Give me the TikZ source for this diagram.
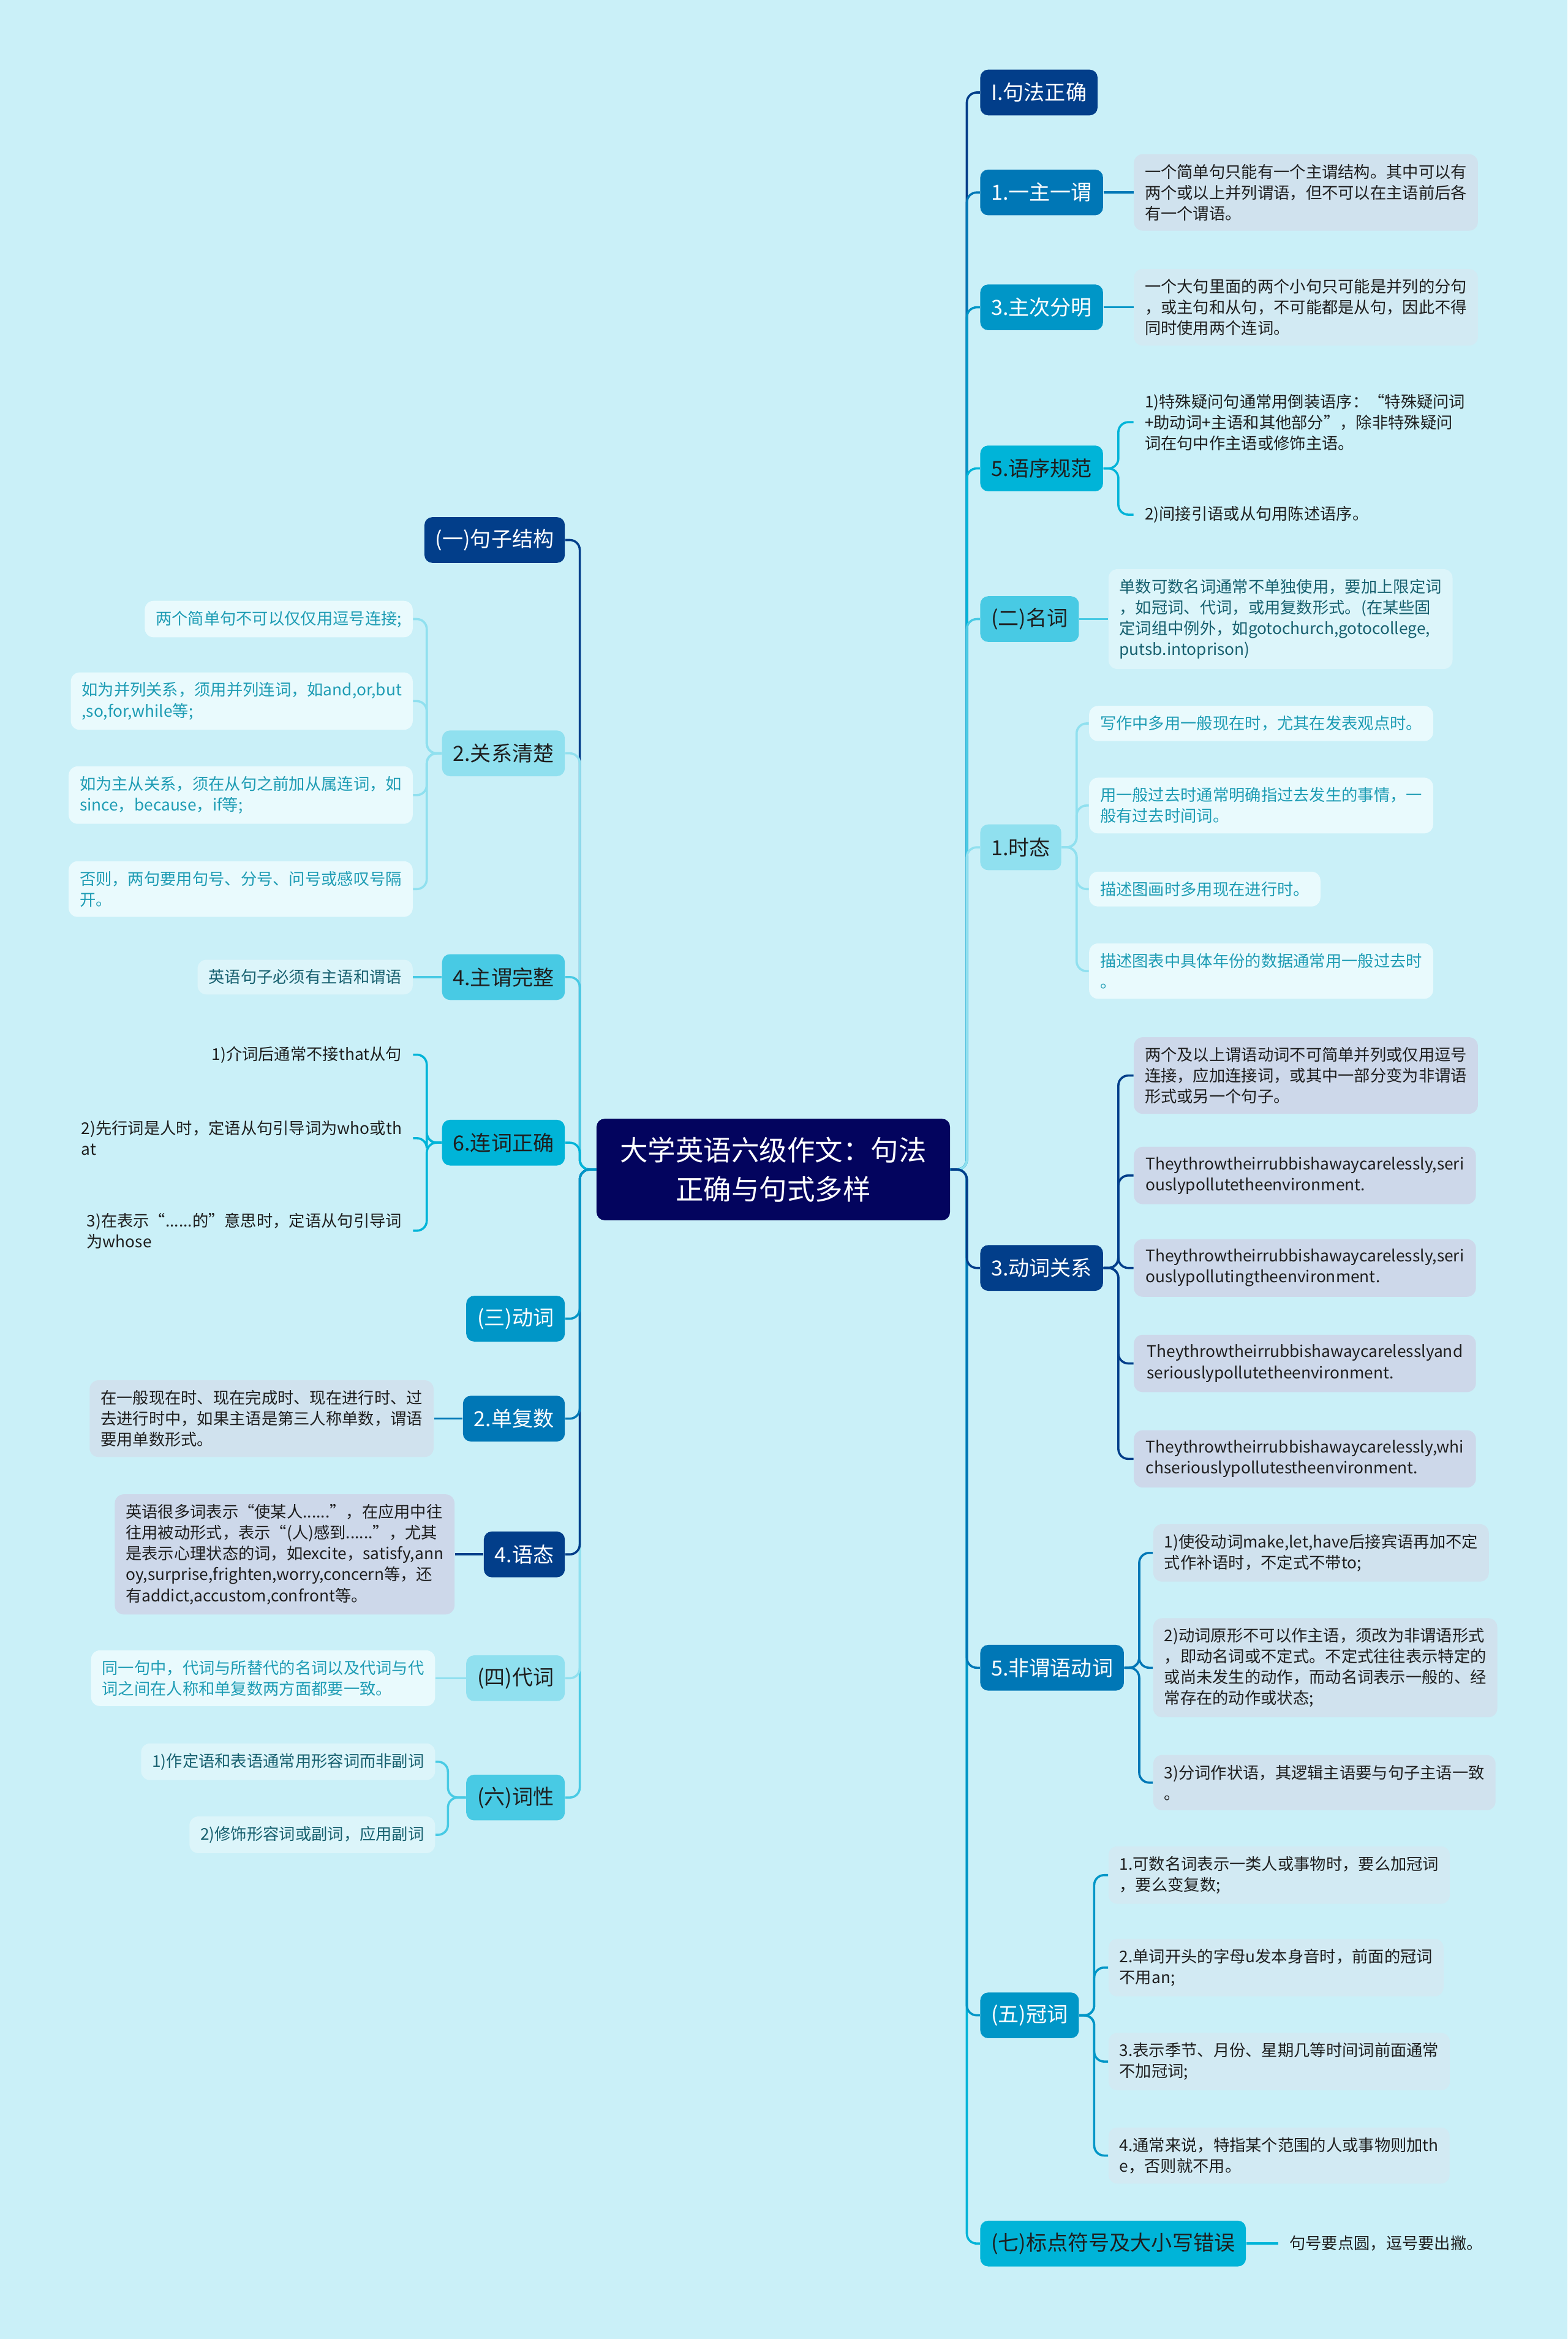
\documentclass[tikz,border=0pt]{standalone}
\usepackage{fontspec}
\setmainfont{Noto Sans CJK SC}
\usepackage{xcolor}
\usepackage{tikz}
\usetikzlibrary{calc,positioning}
\definecolor{bgc}{HTML}{CAF0F8}
\definecolor{cA}{HTML}{03045E}
\definecolor{cB}{HTML}{023E8A}
\definecolor{cC}{HTML}{0077B6}
\definecolor{cD}{HTML}{0096C7}
\definecolor{cE}{HTML}{00B4D8}
\definecolor{cF}{HTML}{48CAE4}
\definecolor{cG}{HTML}{90E0EF}
\definecolor{lfB}{HTML}{CDD8EA}
\definecolor{lfC}{HTML}{D0E2EE}
\definecolor{lfD}{HTML}{D2EAF3}
\definecolor{lfF}{HTML}{DCF5FA}
\definecolor{lfG}{HTML}{E9FAFD}
\definecolor{txt}{HTML}{1E1E1E}
\definecolor{tealD}{HTML}{17606F}
\definecolor{tealB}{HTML}{1E9CB4}
\tikzset{
  br/.style={fill=#1,rounded corners=4pt,inner xsep=5.5pt,inner ysep=3pt,minimum height=23pt,font=\fontsize{10.5}{12}\selectfont},
  brw/.style={br=#1,text=white},
  brd/.style={br=#1,text=txt},
  lf/.style={fill=#1,rounded corners=4.5pt,inner xsep=5.5pt,inner ysep=5pt,align=left,text=txt,font=\fontsize{8.1}{10.5}\selectfont},
  conn/.style={line width=1.1pt,rounded corners=5pt,draw=#1},
}

\begin{document}
\begin{tikzpicture}[x=0.75pt,y=-0.75pt]
  \fill[bgc] (0,0) rectangle (1051,1568);
  \useasboundingbox (0,0) rectangle (1051,1568);

  \node[fill=cA,text=white,rounded corners=4pt,align=center,minimum width=177.75pt,minimum height=51pt,
        font=\fontsize{14}{19.5}\selectfont] (root) at (518.5,784) {大学英语六级作文：句法\\正确与句式多样};
  \coordinate (rj) at ($(root.east)+(11,0)$);
  \coordinate (lj) at ($(root.west)+(-11,0)$);

  % right side
  \node[brw=cB,anchor=west] (jfzq) at (657,62) {I.句法正确};
  \node[brw=cC,anchor=west] (yzyw) at (657,129) {1.一主一谓};
  \node[brw=cD,anchor=west] (zcfm) at (657,206) {3.主次分明};
  \node[brd=cE,anchor=west] (yxgf) at (657,314) {5.语序规范};
  \node[brd=cF,anchor=west] (mc) at (657,415) {(二)名词};
  \node[brd=cG,anchor=west] (st) at (657,568) {1.时态};
  \node[brw=cB,anchor=west] (dcgx) at (657,850) {3.动词关系};
  \node[brw=cC,anchor=west] (fwy) at (657,1118) {5.非谓语动词};
  \node[brw=cD,anchor=west] (gc) at (657,1351) {(五)冠词};
  \node[brd=cE,anchor=west] (bd) at (657,1504) {(七)标点符号及大小写错误};

  \node[lf=lfC,anchor=west] (yzyw1) at (760,129) {一个简单句只能有一个主谓结构。其中可以有\\两个或以上并列谓语，但不可以在主语前后各\\有一个谓语。};
  \node[lf=lfD,anchor=west] (zcfm1) at (760,206) {一个大句里面的两个小句只可能是并列的分句\\，或主句和从句，不可能都是从句，因此不得\\同时使用两个连词。};
  \node[lf=none,anchor=west] (yxgf1) at (760,283) {1)特殊疑问句通常用倒装语序：“特殊疑问词\\+助动词+主语和其他部分”，除非特殊疑问\\词在句中作主语或修饰主语。};
  \node[lf=none,anchor=west] (yxgf2) at (760,345) {2)间接引语或从句用陈述语序。};
  \node[lf=lfF,text=tealD,anchor=west] (mc1) at (743,415) {单数可数名词通常不单独使用，要加上限定词\\，如冠词、代词，或用复数形式。(在某些固\\定词组中例外，如gotochurch,gotocollege,\\putsb.intoprison)};
  \node[lf=lfG,text=tealB,anchor=west] (st1) at (730,485) {写作中多用一般现在时，尤其在发表观点时。};
  \node[lf=lfG,text=tealB,anchor=west] (st2) at (730,540) {用一般过去时通常明确指过去发生的事情，一\\般有过去时间词。};
  \node[lf=lfG,text=tealB,anchor=west] (st3) at (730,596) {描述图画时多用现在进行时。};
  \node[lf=lfG,text=tealB,anchor=west] (st4) at (730,651) {描述图表中具体年份的数据通常用一般过去时\\。};
  \node[lf=lfB,anchor=west] (dcgx1) at (760,721) {两个及以上谓语动词不可简单并列或仅用逗号\\连接，应加连接词，或其中一部分变为非谓语\\形式或另一个句子。};
  \node[lf=lfB,anchor=west,minimum width=172pt] (dcgx2) at (760,788) {Theythrowtheirrubbishawaycarelessly,seri\\ouslypollutetheenvironment.};
  \node[lf=lfB,anchor=west,minimum width=172pt] (dcgx3) at (760,850) {Theythrowtheirrubbishawaycarelessly,seri\\ouslypollutingtheenvironment.};
  \node[lf=lfB,anchor=west,minimum width=172pt] (dcgx4) at (760,914) {Theythrowtheirrubbishawaycarelesslyand\\seriouslypollutetheenvironment.};
  \node[lf=lfB,anchor=west,minimum width=172pt] (dcgx5) at (760,978) {Theythrowtheirrubbishawaycarelessly,whi\\chseriouslypollutestheenvironment.};
  \node[lf=lfC,anchor=west] (fwy1) at (773,1041) {1)使役动词make,let,have后接宾语再加不定\\式作补语时，不定式不带to;};
  \node[lf=lfC,anchor=west] (fwy2) at (773,1118) {2)动词原形不可以作主语，须改为非谓语形式\\，即动名词或不定式。不定式往往表示特定的\\或尚未发生的动作，而动名词表示一般的、经\\常存在的动作或状态;};
  \node[lf=lfC,anchor=west] (fwy3) at (773,1195) {3)分词作状语，其逻辑主语要与句子主语一致\\。};
  \node[lf=lfD,anchor=west] (gc1) at (743,1257) {1.可数名词表示一类人或事物时，要么加冠词\\，要么变复数;};
  \node[lf=lfD,anchor=west] (gc2) at (743,1319) {2.单词开头的字母u发本身音时，前面的冠词\\不用an;};
  \node[lf=lfD,anchor=west] (gc3) at (743,1382) {3.表示季节、月份、星期几等时间词前面通常\\不加冠词;};
  \node[lf=lfD,anchor=west] (gc4) at (743,1445) {4.通常来说，特指某个范围的人或事物则加th\\e，否则就不用。};
  \node[lf=none,anchor=west] (bd1) at (857,1504) {句号要点圆，逗号要出撇。};

  % left side
  \node[brw=cB,anchor=east] (jzjg) at (379,362) {(一)句子结构};
  \node[brd=cG,anchor=east] (gxqc) at (379,505) {2.关系清楚};
  \node[brd=cF,anchor=east] (zwwz) at (379,655) {4.主谓完整};
  \node[brd=cE,anchor=east] (lczq) at (379,766) {6.连词正确};
  \node[brw=cD,anchor=east] (dc) at (379,884) {(三)动词};
  \node[brw=cC,anchor=east] (dfs) at (379,951) {2.单复数};
  \node[brw=cB,anchor=east] (yt) at (379,1042) {4.语态};
  \node[brd=cG,anchor=east] (dcc) at (379,1125) {(四)代词};
  \node[brd=cF,anchor=east] (cx) at (379,1205) {(六)词性};

  \node[lf=lfG,text=tealB,anchor=east] (gxqc1) at (277,415) {两个简单句不可以仅仅用逗号连接;};
  \node[lf=lfG,text=tealB,anchor=east] (gxqc2) at (277,470) {如为并列关系，须用并列连词，如and,or,but\\,so,for,while等;};
  \node[lf=lfG,text=tealB,anchor=east] (gxqc3) at (277,533) {如为主从关系，须在从句之前加从属连词，如\\since，because，if等;};
  \node[lf=lfG,text=tealB,anchor=east] (gxqc4) at (277,596) {否则，两句要用句号、分号、问号或感叹号隔\\开。};
  \node[lf=lfF,text=tealD,anchor=east] (zwwz1) at (277,655) {英语句子必须有主语和谓语};
  \node[lf=none,anchor=east] (lczq1) at (277,707) {1)介词后通常不接that从句};
  \node[lf=none,anchor=east] (lczq2) at (277,763) {2)先行词是人时，定语从句引导词为who或th\\at};
  \node[lf=none,anchor=east] (lczq3) at (277,825) {3)在表示“......的”意思时，定语从句引导词\\为whose};
  \node[lf=lfC,anchor=east] (dfs1) at (291,951) {在一般现在时、现在完成时、现在进行时、过\\去进行时中，如果主语是第三人称单数，谓语\\要用单数形式。};
  \node[lf=lfB,anchor=east] (yt1) at (305,1042) {英语很多词表示“使某人......”，在应用中往\\往用被动形式，表示“(人)感到......”，尤其\\是表示心理状态的词，如excite，satisfy,ann\\oy,surprise,frighten,worry,concern等，还\\有addict,accustom,confront等。};
  \node[lf=lfG,text=tealB,anchor=east] (dcc1) at (292,1125) {同一句中，代词与所替代的名词以及代词与代\\词之间在人称和单复数两方面都要一致。};
  \node[lf=lfF,text=tealD,anchor=east] (cx1) at (292,1181) {1)作定语和表语通常用形容词而非副词};
  \node[lf=lfF,text=tealD,anchor=east] (cx2) at (292,1230) {2)修饰形容词或副词，应用副词};

  % trunk, far ones first
  \foreach \n/\c in {jfzq/cB,yzyw/cC,zcfm/cD,yxgf/cE,mc/cF,st/cG,bd/cE,gc/cD,fwy/cC,dcgx/cB}
    \draw[conn=\c] (root.east) -- (rj) |- (\n.west);
  \foreach \n/\c in {jzjg/cB,gxqc/cG,zwwz/cF,lczq/cE,cx/cF,dcc/cG,yt/cB,dfs/cC,dc/cD}
    \draw[conn=\c] (root.west) -- (lj) |- (\n.east);

  % leaves
  \draw[conn=cC] (yzyw.east) -- (yzyw1.west);
  \draw[conn=cD] (zcfm.east) -- (zcfm1.west);
  \draw[conn=cF] (mc.east) -- (mc1.west);
  \draw[conn=cE] (bd.east) -- (bd1.west);
  \foreach \l in {yxgf1,yxgf2} \draw[conn=cE] (yxgf.east) -- ++(10,0) |- (\l.west);
  \foreach \l in {st1,st2,st3,st4} \draw[conn=cG] (st.east) -- ++(10,0) |- (\l.west);
  \foreach \l in {dcgx1,dcgx2,dcgx3,dcgx4,dcgx5} \draw[conn=cB] (dcgx.east) -- ++(10,0) |- (\l.west);
  \foreach \l in {fwy1,fwy2,fwy3} \draw[conn=cC] (fwy.east) -- ++(10,0) |- (\l.west);
  \foreach \l in {gc1,gc2,gc3,gc4} \draw[conn=cD] (gc.east) -- ++(10,0) |- (\l.west);
  \draw[conn=cF] (zwwz.west) -- (zwwz1.east);
  \draw[conn=cC] (dfs.west) -- (dfs1.east);
  \draw[conn=cB] (yt.west) -- (yt1.east);
  \draw[conn=cG] (dcc.west) -- (dcc1.east);
  \foreach \l in {gxqc1,gxqc2,gxqc3,gxqc4} \draw[conn=cG] (gxqc.west) -- ++(-10,0) |- (\l.east);
  \foreach \l in {lczq1,lczq2,lczq3} \draw[conn=cE] (lczq.west) -- ++(-10,0) |- (\l.east);
  \foreach \l in {cx1,cx2} \draw[conn=cF] (cx.west) -- ++(-12,0) |- (\l.east);
\end{tikzpicture}
\end{document}
